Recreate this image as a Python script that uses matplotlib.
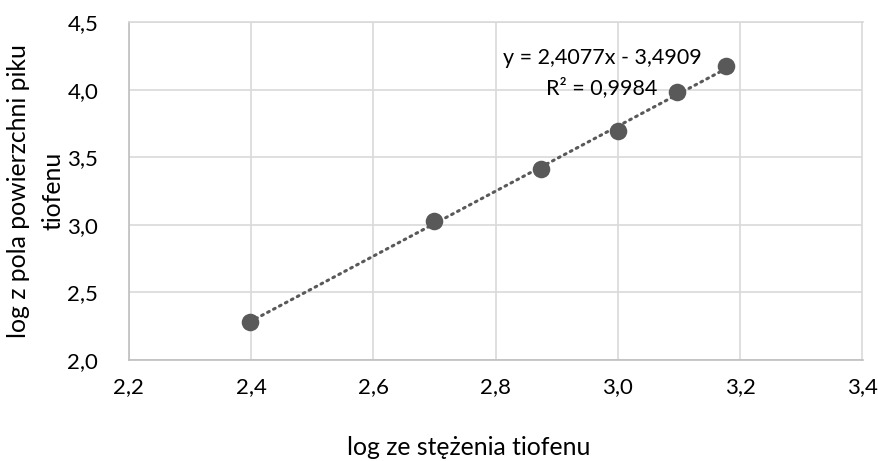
import numpy as np
import matplotlib
matplotlib.use("Agg")
import matplotlib.pyplot as plt
from matplotlib.ticker import FuncFormatter

plt.rcParams['font.family'] = ['Lato', 'DejaVu Sans']

x_vals = [2.398, 2.699, 2.875, 3.000, 3.097, 3.176]
y_vals = [2.284, 3.032, 3.413, 3.696, 3.987, 4.178]
slope = 2.4077
intercept = -3.4909
r2_text = "0,9984"
x_label = "log ze stężenia tiofenu"
y_label = "log z pola powierzchni piku\ntiofenu"

fig = plt.figure(figsize=(8.79, 4.61), dpi=100)
ax = fig.add_axes([128.7/879, 1-360/461, (862.5-128.7)/879, (360-22.5)/461])

grid_c = '#d9d9d9'
pt_c = '#595959'

xt = np.linspace(min(x_vals), max(x_vals), 100)
ax.plot(xt, slope*xt + intercept, linestyle=(0, (0.6, 1.6)), color=pt_c, lw=2.2,
        dash_capstyle='round', zorder=3)
ax.scatter(x_vals, y_vals, s=160, color=pt_c, zorder=4, linewidths=0)

ax.set_xlim(2.2, 3.4)
ax.set_ylim(2.0, 4.5)
ax.set_xticks(np.arange(2.2, 3.41, 0.2))
ax.set_yticks(np.arange(2.0, 4.51, 0.5))
fmt = FuncFormatter(lambda v, p: f"{v:.1f}".replace('.', ','))
ax.xaxis.set_major_formatter(fmt)
ax.yaxis.set_major_formatter(fmt)
ax.grid(True, color=grid_c, lw=1.2)
ax.set_axisbelow(True)
for s in ax.spines.values():
    s.set_color(grid_c)
    s.set_linewidth(1.2)
ax.spines['left'].set_color('#bfbfbf')
ax.spines['bottom'].set_color('#bfbfbf')
ax.tick_params(length=0, labelsize=16, colors='#404040', pad=12)
ax.tick_params(axis='y', pad=22)
for lab in ax.get_xticklabels() + ax.get_yticklabels():
    lab.set_color('#000000')

sign = '-' if intercept < 0 else '+'
eq = f"y = {slope:.4f}x {sign} {abs(intercept):.4f}".replace('.', ',')
ax.text(2.974, 4.237, eq, ha='center', va='center', fontsize=15.5, color='#000000')
ax.text(2.974, 4.015, f"R² = {r2_text}", ha='center', va='center', fontsize=15.5, color='#000000')

fig.text(469/879, 1-447/461, x_label, ha='center', va='center', fontsize=17.8)
fig.text(36/879, 1-191/461, y_label, ha='center', va='center', fontsize=17.8,
         rotation=90, multialignment='center', linespacing=1.6)

fig.savefig('out.png', dpi=100)
